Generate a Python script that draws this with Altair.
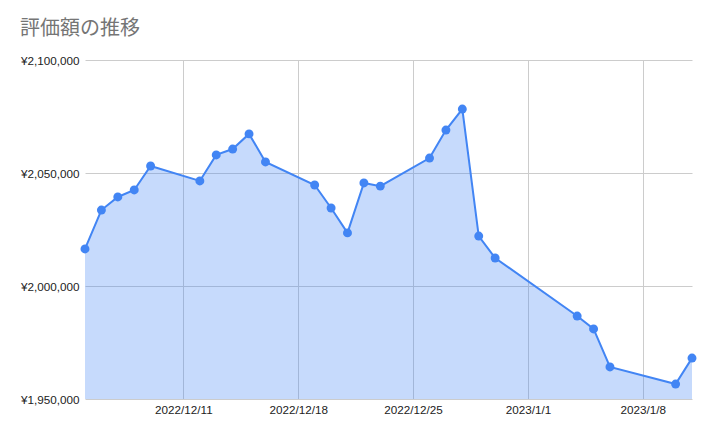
import altair as alt
import pandas as pd

dates = ["2022-12-05", "2022-12-06", "2022-12-07", "2022-12-08", "2022-12-09",
         "2022-12-12", "2022-12-13", "2022-12-14", "2022-12-15", "2022-12-16",
         "2022-12-19", "2022-12-20", "2022-12-21", "2022-12-22", "2022-12-23",
         "2022-12-26", "2022-12-27", "2022-12-28", "2022-12-29", "2022-12-30",
         "2023-01-04", "2023-01-05", "2023-01-06", "2023-01-10", "2023-01-11"]
values = [2016400, 2033600, 2039400, 2042500, 2053100,
          2046500, 2058000, 2060600, 2067300, 2054900,
          2044700, 2034500, 2023500, 2045600, 2044200,
          2056600, 2069000, 2078300, 2022100, 2012400,
          1986700, 1981000, 1964200, 1956600, 1968100]
y_ticks = [1950000, 2000000, 2050000, 2100000]
x_ticks = [(2022, 12, 11), (2022, 12, 18), (2022, 12, 25), (2023, 1, 1), (2023, 1, 8)]
title_text = "評価額の推移"

df = pd.DataFrame({"date": dates, "value": values})

x_scale = alt.Scale(type="utc",
                    domain=[alt.DateTime(year=2022, month=12, date=5, utc=True),
                            alt.DateTime(year=2023, month=1, date=11, utc=True)])
y_scale = alt.Scale(domain=[1950000, 2100000], nice=False, zero=False)

x_axis = alt.Axis(values=[alt.DateTime(year=y, month=m, date=d, utc=True) for y, m, d in x_ticks],
                  labelExpr="utcFormat(datum.value, '%Y/%-m/%-d')", title=None, domain=False, ticks=False,
                  grid=True, gridColor="#cccccc", labelFont="Liberation Sans", labelFontSize=11.7,
                  labelColor="#222222", labelPadding=5, labelAngle=0)
y_axis = alt.Axis(values=y_ticks, labelExpr='"¥" + format(datum.value, ",")', title=None,
                  domain=False, ticks=False, grid=True, gridColor="#cccccc",
                  labelFont="Liberation Sans", labelFontSize=11.7, labelColor="#222222",
                  labelPadding=6)

base = alt.Chart(df).encode(
    x=alt.X("date:T", scale=x_scale, axis=x_axis),
    y=alt.Y("value:Q", scale=y_scale, axis=y_axis),
)

area = base.mark_area(color="#4285f4", opacity=0.3).encode(y2=alt.datum(y_ticks[0]))
line = base.mark_line(color="#4285f4", strokeWidth=2)
pts = base.mark_circle(color="#4285f4", opacity=1, size=80)

chart = (area + line + pts).properties(
    width=607, height=339,
    title=alt.TitleParams(title_text, anchor="start", frame="group", dx=-65, dy=24, offset=24,
                          baseline="alphabetic", font="Noto Sans CJK JP", fontSize=20,
                          fontWeight="normal", color="#757575"),
    autosize=alt.AutoSizeParams(type="none"),
    padding={"left": 77, "top": 52, "right": 9, "bottom": 22},
).configure_view(stroke=None)

chart.save("out.html", embed_options={"renderer": "svg", "actions": False})
